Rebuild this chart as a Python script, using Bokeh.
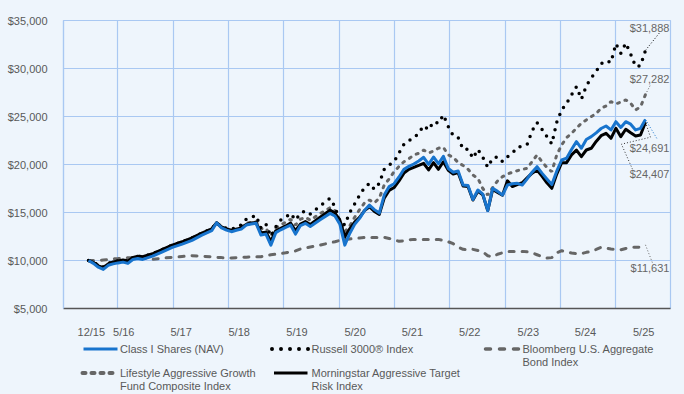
from bokeh.plotting import figure
from bokeh.layouts import column
from bokeh.models import FixedTicker, NumeralTickFormatter, Range1d, GlobalInlineStyleSheet
from bokeh.core.properties import value
from bokeh.embed import file_html
from bokeh.resources import INLINE

# ---------------- data ----------------
months = [0, 1, 2, 3, 4, 5, 6, 7, 8, 9, 10, 11,
          13, 15, 17, 19, 21, 23,
          25, 26, 27, 28, 29, 30, 31, 32, 33, 34, 35, 36, 37, 38, 39, 40, 41, 42, 43, 44, 45,
          47,
          49, 50, 51, 52, 53, 54, 55, 56, 57, 58, 59, 60,
          61, 62, 63, 64, 65, 66, 67, 68, 69, 70, 71, 72,
          73, 74, 75, 76, 77, 78, 79, 80, 81, 82, 83, 84,
          85, 86, 87, 88, 89, 90, 91, 92, 93, 94, 95, 96,
          97, 98, 99, 100, 101, 102, 103, 104, 105, 106, 107, 108, 109, 110, 111, 112, 113]

class_i = [10000, 9700, 9300, 9070, 9500, 9650, 9750, 9830, 9700, 10100, 10200, 10110,
           10450, 10900, 11360, 11700, 12100, 12650,
           13100, 13930, 13400, 13170, 13000, 13150, 13270, 13690, 13800, 13870, 12650, 12750, 11600, 12900, 13200, 13450, 13690, 12750, 13640, 13870, 13550,
           14250,
           14910, 14630, 13790, 11600, 12820, 13760, 14390, 15200, 15770, 15300, 14940, 16820,
           17700, 18000, 18700, 19500, 19800, 20050, 20370, 20750, 20020, 20780, 20080, 20850,
           19580, 19200, 19320, 17860, 17810, 16350, 17340, 16920, 15200, 17520, 17200, 16820,
           17860, 18000, 18040, 17860, 18500, 19200, 19770, 19100, 18500, 17910, 19300, 20470,
           20650, 21560, 22380, 21690, 22600, 22900, 23300, 23750, 24010, 23600, 24460, 23860, 24460, 24200, 23600, 23770, 24691]

russell = [10000, 9800, 9500, 9300, 9700, 9850, 9950, 10050, 9950, 10300, 10450, 10400,
           10700, 11150, 11600, 11950, 12350, 12850,
           13300, 13950, 13500, 13350, 13250, 13450, 13700, 14300, 14500, 14700, 13350, 13800, 12500, 13500, 14200, 14500, 14900, 14200, 14900, 15180, 14840,
           15700,
           16470, 15600, 14000, 13700, 15000, 15900, 16800, 17600, 18040, 17410, 18040, 19500,
           19950, 20300, 21200, 22100, 22500, 22730, 23300, 24050, 23600, 24460, 24300, 25160,
           23940, 23000, 22800, 21580, 21580, 20650, 21580, 20750, 19710, 20650, 20810, 20290,
           20800, 21170, 21790, 21900, 22100, 23500, 24360, 23670, 22900, 22140, 24400, 25680,
           26380, 27250, 28110, 26800, 28200, 29000, 29700, 30500, 30820, 30620, 32570, 31600, 32640, 31500, 30200, 30300, 31888]

bloomberg = [10000, 10000, 10000, 10050, 10100, 10170, 10200, 10250, 10280, 10300, 10320, 10250,
             10110, 10250, 10320, 10420, 10490, 10450,
             10380, 10320, 10300, 10250, 10260, 10300, 10330, 10350, 10370, 10380, 10400, 10500, 10600, 10650, 10720, 10800, 10900, 11000, 11200, 11300, 11400,
             11600,
             11850, 11950, 12100, 12200, 12250, 12300, 12350, 12400, 12400, 12400, 12400, 12400,
             12300, 12150, 12000, 12050, 12150, 12200, 12200, 12200, 12200, 12200, 12200, 12100,
             11950, 11750, 11400, 11160, 11100, 11160, 11050, 10890, 10500, 10370, 10650, 10800,
             10950, 10950, 10950, 10950, 10900, 10800, 10600, 10400, 10250, 10300, 10800, 11020,
             10900, 10780, 10720, 10710, 10850, 10950, 11150, 11370, 11300, 11190, 11150, 11120, 11250, 11370, 11380, 11400, 11631]

lifestyle = [10000, 9850, 9500, 9300, 9700, 9850, 9950, 10050, 9950, 10300, 10450, 10400,
             10700, 11150, 11600, 11950, 12350, 12850,
             13300, 13900, 13450, 13300, 13150, 13300, 13500, 13850, 14000, 14050, 13300, 13350, 12600, 13400, 13700, 14000, 14300, 13700, 14300, 14500, 14200,
             14900,
             15500, 15200, 14200, 12990, 13600, 14500, 15300, 16000, 16300, 16000, 16500, 17860,
             18500, 19250, 19800, 20290, 20600, 20990, 21170, 21500, 21200, 21400, 21700, 21790,
             21000, 20750, 20200, 19900, 19500, 18900, 18560, 17500, 16820, 17600, 18300, 18730,
             19000, 19200, 19350, 19500, 19600, 20300, 20990, 20300, 19700, 19250, 21000, 22030,
             22800, 23250, 23770, 24300, 24640, 24990, 25300, 25860, 26100, 26550, 26310, 26500, 26730, 26380, 25680, 26000, 27282]

morningstar = [10000, 9800, 9450, 9250, 9650, 9850, 9950, 10050, 9950, 10300, 10450, 10400,
               10700, 11150, 11600, 11950, 12350, 12850,
               13300, 13950, 13500, 13300, 13150, 13250, 13400, 13750, 13900, 13950, 12900, 12950, 12000, 13100, 13350, 13600, 13900, 13100, 13800, 14050, 13750,
               14500,
               15250, 14950, 14200, 12450, 13300, 14000, 14500, 15200, 15600, 15100, 14800, 16500,
               17300, 17600, 18300, 19100, 19500, 19700, 19900, 20120, 19430, 20190, 19500, 20290,
               19400, 19000, 19150, 17750, 17700, 16300, 17200, 16850, 15200, 17400, 17100, 16800,
               18300, 17700, 17900, 18100, 18600, 19100, 19430, 18800, 18100, 17520, 19000, 20190,
               20190, 21000, 21500, 20810, 21510, 21690, 22400, 23000, 23250, 22730, 23770, 22900, 23670, 23300, 22970, 23080, 24407]

x_tick_labels = ["12/15", "5/16", "5/17", "5/18", "5/19", "5/20", "5/21", "5/22", "5/23", "5/24", "5/25"]
y_ticks = [5000, 10000, 15000, 20000, 25000, 30000, 35000]
legend_line1 = ["Class I Shares (NAV)", "Russell 3000\u00ae Index", "Bloomberg U.S. Aggregate",
                "Lifestyle Aggressive Growth", "Morningstar Aggressive Target"]
legend_line2 = ["", "", "Bond Index", "Fund Composite Index", "Risk Index"]

# ---------------- style ----------------
BG = "#EEF5FC"
GRID = "#A9C8F2"
TXT = "#595959"
BLUE = "#1874CD"
GRAY = "#666666"
BLACK = "#000000"
FONT = "Liberation Sans"
W = 684

X0, X1 = -5.07, 118.08
p = figure(width=W, height=340, output_backend="svg", toolbar_location=None,
           x_range=Range1d(X0, X1), y_range=Range1d(5000, 35000),
           min_border_left=63, min_border_right=14, min_border_top=20, min_border_bottom=32)
p.frame_align = False
p.stylesheets = [GlobalInlineStyleSheet(css="html, body { background-color: #EEF5FC; }")]
p.background_fill_color = BG
p.border_fill_color = BG
p.outline_line_color = GRID
p.outline_line_width = 1.2

p.xgrid.ticker = FixedTicker(ticks=[5.94 + 11.23 * i for i in range(10)])
p.ygrid.ticker = FixedTicker(ticks=y_ticks)
for g in (p.xgrid, p.ygrid):
    g.grid_line_color = GRID
    g.grid_line_width = 1.2

tick_pos = [0.57, 7.16, 18.79, 30.57, 42.3, 54.09, 65.71, 77.36, 89.23, 100.83, 112.64]
p.xaxis.ticker = FixedTicker(ticks=tick_pos)
p.xaxis.major_label_overrides = {t: l for t, l in zip(tick_pos, x_tick_labels)}
p.yaxis.ticker = FixedTicker(ticks=y_ticks)
p.yaxis.formatter = NumeralTickFormatter(format="$0,0")
for ax in (p.xaxis, p.yaxis):
    ax.major_tick_line_color = None
    ax.minor_tick_line_color = None
    ax.major_label_text_font = FONT
    ax.major_label_text_font_size = "11px"
    ax.major_label_text_color = TXT
p.yaxis.axis_line_color = GRID
p.yaxis.axis_line_width = 1.2
p.yaxis.major_label_standoff = 10
p.xaxis.axis_line_color = "#555555"
p.xaxis.axis_line_width = 1.5
p.xaxis.major_label_standoff = 11

# ---------------- series ----------------
p.line(months, bloomberg, line_color=GRAY, line_width=3, line_dash="5 8", line_cap="round")
p.line(months, lifestyle, line_color=GRAY, line_width=3, line_dash="2 6", line_cap="round")
p.line(months, russell, line_color=BLACK, line_width=3.5, line_dash="0 8", line_cap="round")
p.line(months, morningstar, line_color=BLACK, line_width=3, line_join="round")
p.line(months, class_i, line_color=BLUE, line_width=3, line_join="round")

# ---------------- end labels with leader lines ----------------
ppx = 607.0 / (X1 - X0)      # px per month
ppy = 288.0 / 30000.0        # px per dollar


def pts(path, x0, y0):
    xs = [x0 + dx / ppx for dx, dy in path]
    ys = [y0 - dy / ppy for dx, dy in path]
    return xs, ys


xe = months[-1]
ends = [
    (russell[-1], BLACK, [(0, 0), (14, -17.5)], -22.8),
    (lifestyle[-1], GRAY, [(0, 0), (5, -9.7)], -15.7),
    (class_i[-1], BLUE, [(0, 0), (12.3, 20.5)], 28.2),
    (morningstar[-1], "#333333", [(0, 0), (5, 15), (-24, 22), (-13, 47)], 51.8),
    (bloomberg[-1], GRAY, [(0, 0), (7, 18)], 23.0),
]
for v, col, path, yoff in ends:
    xs, ys = pts(path, xe, v)
    p.line(xs, ys, line_color=col, line_width=1, line_dash="1 2")
    p.text(x=[xe], y=[v], text=["${:,}".format(v)], x_offset=24, y_offset=yoff,
           text_align="right", text_baseline="middle", text_font=value(FONT),
           text_font_size="11px", text_color="#666666")

# ---------------- legend strip (page pixel coordinates) ----------------
leg = figure(width=W, height=54, output_backend="svg", toolbar_location=None,
             x_range=Range1d(0, W), y_range=Range1d(394, 340),
             x_axis_location=None, y_axis_location=None,
             min_border=0, min_border_left=0, min_border_right=0, min_border_top=0, min_border_bottom=0)
leg.frame_align = False
leg.background_fill_color = BG
leg.border_fill_color = BG
leg.outline_line_color = None
leg.xgrid.visible = False
leg.ygrid.visible = False

row1, row2, lh = 348.5, 372.5, 13
legend_specs = [
    # (x_start, x_end, y, color, width, dash, cap, text_x)
    (83, 117, row1, BLUE, 3, "solid", "butt", 119.5),
    (271.5, 307.6, row1, BLACK, 4, "0 9", "round", 311),
    (485, 519, row1, GRAY, 3.5, "5 9", "round", 522),
    (82, 117, row2, GRAY, 4, "3 6", "round", 119.5),
    (273.5, 307, row2, BLACK, 3, "solid", "butt", 311),
]
for (xs0, xs1, yy, col, w, dash, cap, tx), n1, n2 in zip(legend_specs, legend_line1, legend_line2):
    leg.line([xs0, xs1], [yy, yy], line_color=col, line_width=w, line_dash=dash, line_cap=cap)
    lines = [n1] + ([n2] if n2 else [])
    leg.text(x=[tx] * len(lines), y=[yy + lh * i for i in range(len(lines))], text=lines,
             text_baseline="middle", text_font=value(FONT), text_font_size="11px",
             text_color=TXT)

open("out.html", "w").write(file_html(column(p, leg, spacing=0), INLINE))
